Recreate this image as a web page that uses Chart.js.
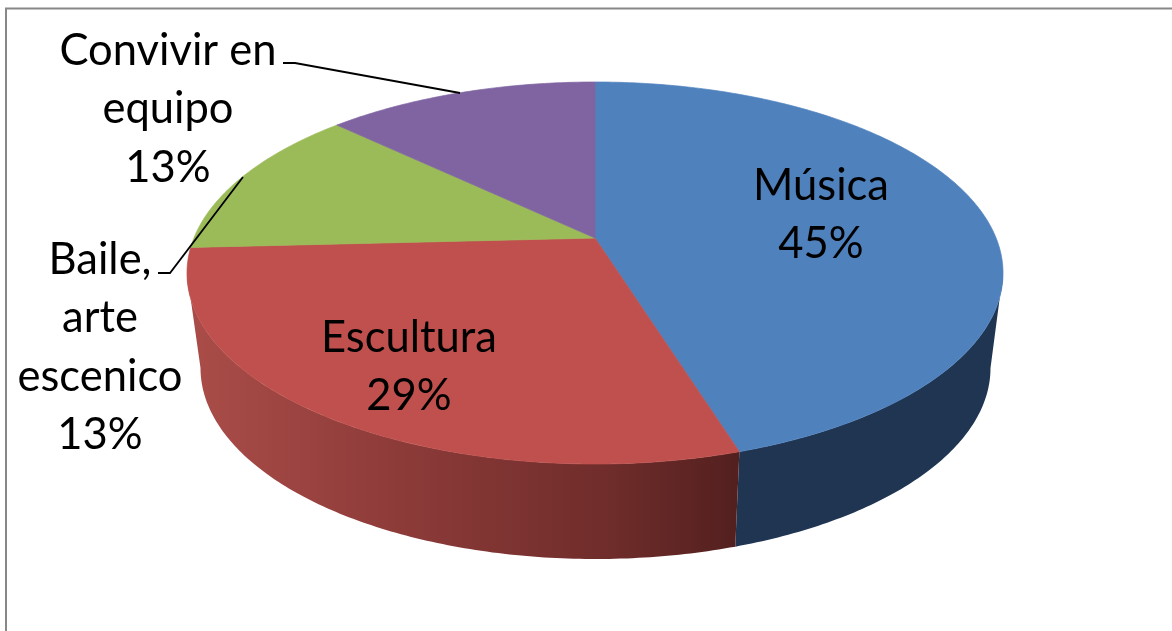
<!DOCTYPE html>
<html>
<head>
<meta charset="utf-8">
<title>Pie 3D</title>
<script src="https://cdn.jsdelivr.net/npm/chart.js@4"></script>
<style>
  html, body { margin: 0; padding: 0; background: #fff; overflow: hidden; }
  canvas { display: block; }
</style>
</head>
<body>
<canvas id="pieChart" width="1172" height="631"></canvas>
<script>
// Chart data
const categories = ["Música", "Escultura", "Baile, arte escenico", "Convivir en equipo"];
const labelLines = [["Música"], ["Escultura"], ["Baile,", "arte", "escenico"], ["Convivir en", "equipo"]];
const values = [45.2, 29, 12.9, 12.9]; // labels round these to whole percents
const sliceColors = ["#4f81bd", "#bf504d", "#9bbb59", "#8064a2"];

// Tilted disc: top rim, bottom rim, and how far the tilt pushes the pie centre up
const topRim = { cx: 595, cy: 273, rx: 408, ry: 191 };
const bottomRim = { cx: 595.5, cy: 368, rx: 395, ry: 191 };
const tilt = -0.183;

// Where labels sit (centre x, first baseline) and their leader lines
const labelPlaces = [
  { x: 821, y: 200 },
  { x: 409, y: 352 },
  { x: 100, y: 274 },
  { x: 168, y: 65 }
];
const leaders = [
  null,
  null,
  [[158, 273], [170, 273], [243, 177]],
  [[283, 63], [295, 63], [460, 93]]
];
const lineGap = 58.4;

// Angle clockwise from 12 o'clock -> point on the rim, with perspective
function rimPoint(rim, angle) {
  const sx = Math.sin(angle);
  const sy = -Math.cos(angle);
  const d = 1 + tilt * sy;
  return [
    rim.cx + rim.rx * sx * Math.sqrt(1 - tilt * tilt) / d,
    rim.cy + rim.ry * (sy + tilt) / d
  ];
}

function traceRim(ctx, rim, from, to) {
  const steps = Math.max(2, Math.ceil(Math.abs(to - from) * 80));
  for (let i = 0; i <= steps; i++) {
    const p = rimPoint(rim, from + (to - from) * i / steps);
    ctx.lineTo(p[0], p[1]);
  }
}

function wallFill(ctx, index) {
  if (index === 0) return "#1f3552";
  const g = ctx.createLinearGradient(200, 0, 737, 0);
  g.addColorStop(0, "#a94c48");
  g.addColorStop(0.37, "#8d3b39");
  g.addColorStop(0.75, "#702d2b");
  g.addColorStop(1, "#53201f");
  return g;
}

const pie3d = {
  id: "pie3d",
  beforeDatasetsDraw(chart) {
    const ctx = chart.ctx;
    const arcs = chart.getDatasetMeta(0).data.map((arc) => {
      const a = arc.getProps(["startAngle", "endAngle"], true);
      return { from: a.startAngle + Math.PI / 2, to: a.endAngle + Math.PI / 2 };
    });
    // only the front of the disc shows a wall
    const frontFrom = Math.acos(tilt);
    const frontTo = 2 * Math.PI - frontFrom;

    ctx.save();
    ctx.lineJoin = "round";
    arcs.forEach((arc, i) => {
      const from = Math.max(arc.from, frontFrom);
      const to = Math.min(arc.to, frontTo);
      if (to <= from) return;
      ctx.beginPath();
      traceRim(ctx, topRim, from, to);
      traceRim(ctx, bottomRim, to, from);
      ctx.closePath();
      ctx.fillStyle = wallFill(ctx, i);
      ctx.fill();
    });

    const apex = [topRim.cx, topRim.cy + topRim.ry * tilt];
    arcs.forEach((arc, i) => {
      ctx.beginPath();
      ctx.moveTo(apex[0], apex[1]);
      traceRim(ctx, topRim, arc.from, arc.to);
      ctx.closePath();
      ctx.fillStyle = sliceColors[i];
      ctx.fill();
      // hides the light seam between neighbouring slices
      ctx.strokeStyle = sliceColors[i];
      ctx.lineWidth = 0.7;
      ctx.stroke();
    });
    ctx.restore();
    return false; // flat arcs are replaced by the ones above
  },
  afterDraw(chart) {
    const ctx = chart.ctx;
    ctx.save();

    // Frame: only top and left edges are in the picture
    ctx.strokeStyle = "#888888";
    ctx.lineWidth = 2;
    ctx.beginPath();
    ctx.moveTo(6, 631);
    ctx.lineTo(6, 8.5);
    ctx.lineTo(1172, 8.5);
    ctx.stroke();

    ctx.strokeStyle = "#000";
    ctx.lineWidth = 1.8;
    leaders.forEach((pts) => {
      if (!pts) return;
      ctx.beginPath();
      pts.forEach((p, i) => (i ? ctx.lineTo(p[0], p[1]) : ctx.moveTo(p[0], p[1])));
      ctx.stroke();
    });

    ctx.fillStyle = "#000";
    ctx.font = '43.5px Lato, "Open Sans", sans-serif';
    ctx.textAlign = "center";
    ctx.textBaseline = "alphabetic";
    values.forEach((v, i) => {
      const lines = labelLines[i].concat(Math.round(v) + "%");
      lines.forEach((line, j) => {
        ctx.fillText(line, labelPlaces[i].x, labelPlaces[i].y + j * lineGap);
      });
    });
    ctx.restore();
  }
};

new Chart(document.getElementById("pieChart").getContext("2d"), {
  type: "pie",
  data: {
    labels: categories,
    datasets: [{ data: values, backgroundColor: sliceColors, borderWidth: 0 }]
  },
  options: {
    responsive: false,
    animation: false,
    plugins: {
      legend: { display: false },
      tooltip: { enabled: false }
    }
  },
  plugins: [pie3d]
});
</script>
</body>
</html>
